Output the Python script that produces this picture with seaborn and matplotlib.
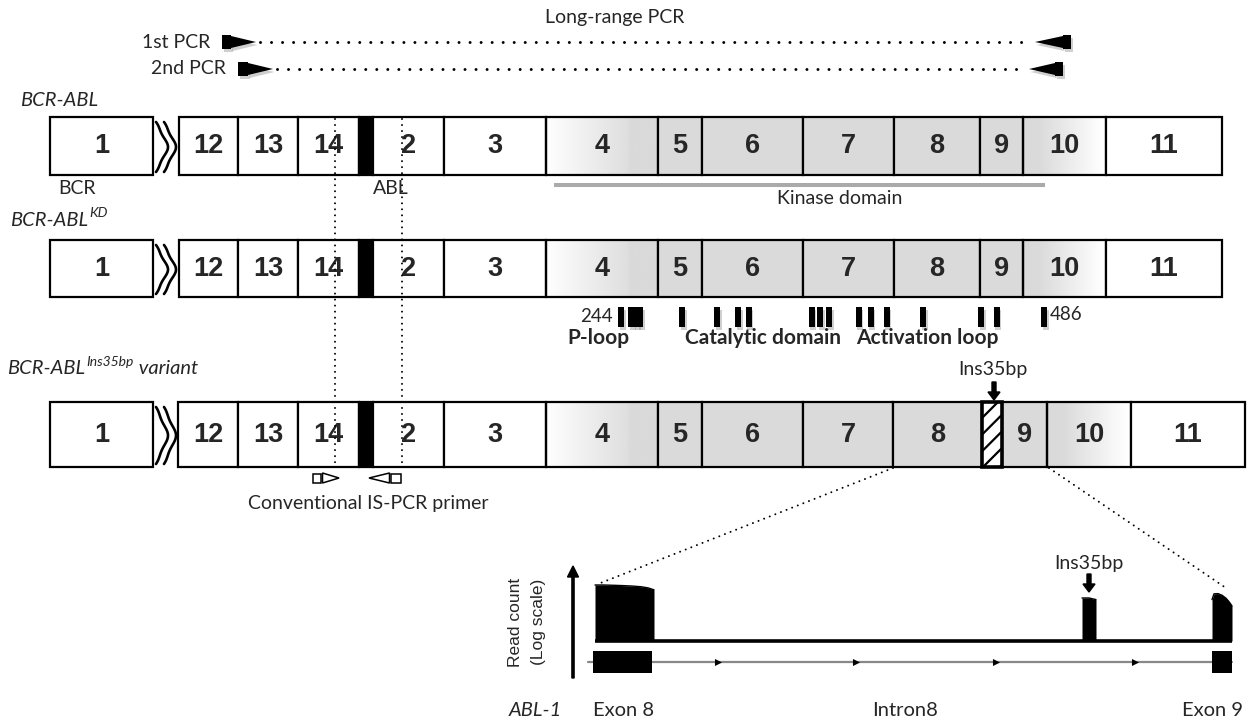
import numpy as np
import matplotlib
matplotlib.use("Agg")
import matplotlib.pyplot as plt
from matplotlib.patches import Rectangle, Polygon
import seaborn as sns

sns.set_theme(style="white")
plt.rcParams["font.family"] = ["Lato", "DejaVu Sans"]
plt.rcParams["hatch.linewidth"] = 1.6

W, H = 1248, 721
GRAY = np.array([218, 218, 218]) / 255.0

# ---------------- construct layout ----------------
bcr_exon1 = [50, 153]
wt_edges = [179, 238, 298, 359, 373, 444, 546, 658, 702, 803, 894, 980, 1023, 1106, 1222]
wt_exons = ["12", "13", "14", "junction", "2", "3", "4", "5", "6", "7", "8", "9", "10", "11"]
ins_edges = [178, 238, 298, 359, 373, 444, 546, 658, 702, 803, 893, 982, 1002, 1047, 1131, 1245]
ins_exons = ["12", "13", "14", "junction", "2", "3", "4", "5", "6", "7", "8", "ins", "9", "10", "11"]
row_tops = [117, 240, 402]
row_bottoms = [175, 297, 467]
row_names = [("BCR-ABL", "", ""), ("BCR-ABL", "KD", ""), ("BCR-ABL", "Ins35bp", " variant")]
row_label_x = [20, 10, 7]
row_label_y = [100, 220, 369]

white_exons = {"12", "13", "14", "2", "3", "11"}
gray_exons = {"5", "6", "7", "8", "9"}

# kinase-domain mutation sites (ABL codons) and codon -> drawing scale
mutation_codons = [244, 250, 253, 255, 279, 299, 311, 317, 353, 358, 363,
                   380, 387, 396, 417, 450, 459, 486]
codon_ref = (244, 486)
codon_x = (621, 1044)

# long-range PCR primers: (rect start, triangle base, tip, y)
lr_forward = [(222, 231, 256, 42), (238, 248, 273, 69)]
lr_reverse = [(1071, 1063, 1035, 42), (1063, 1055, 1029, 69)]
pcr_names = ["1st PCR", "2nd PCR"]

# conventional IS-PCR primers (open symbols)
is_forward = (313, 321, 339, 478)
is_reverse = (401, 391, 369, 478)

# breakpoint guides
guide_x = [335, 402]

# ABL-1 exon 8 / intron 8 / exon 9 read depth (log10 read count)
exon8_pos = [595, 603, 612, 622, 632, 641, 648, 654]
exon8_log = [4.87, 4.87, 4.85, 4.82, 4.78, 4.72, 4.62, 4.45]
ins_pos = [1082, 1089, 1096]
ins_log = [3.74, 3.74, 3.60]
exon9_pos = [1212, 1214, 1218, 1222, 1226, 1229, 1232]
exon9_log = [3.6, 4.1, 4.12, 3.98, 3.72, 3.42, 3.05]
cov_baseline = 641
px_per_log = 11.5
gene_exons = [(593, 652), (1212, 1232)]
intron_span = (588, 1232)
strand_marks = [718, 856, 996, 1135]

fig = plt.figure(figsize=(12.48, 7.21), dpi=100)
ax = fig.add_axes([0, 0, 1, 1])
ax.set_xlim(0, W)
ax.set_ylim(H, 0)
ax.axis("off")
renderer = fig.canvas.get_renderer()

NUM_FONT = dict(family=["Liberation Sans", "DejaVu Sans"], fontweight="bold", fontsize=19.5)


def gradient(x0, x1, y0, y1, kind):
    t = np.linspace(0, 1, 300)
    if kind == "in":
        a = np.where(t < 0.74, t / 0.74 * 0.88, 1.0)
    else:
        a = np.clip(1 - (t - 0.18) / 0.78, 0, 1)
    rgb = 1 - a[:, None] * (1 - GRAY[None, :])
    ax.imshow(rgb[None, :, :], extent=(x0, x1, y1, y0), aspect="auto",
              interpolation="bilinear", zorder=1)


def dotted(x0, y0, x1, y1, spacing, size, color="black", z=3):
    lw = size * 0.72
    ax.plot([x0, x1], [y0, y1], color=color, lw=lw,
            ls=(0, (0.01, spacing / size)), dash_capstyle="round", zorder=z)


def draw_row(top, bottom, edges, names):
    ax.add_patch(Rectangle((bcr_exon1[0], top), bcr_exon1[1] - bcr_exon1[0], bottom - top,
                           facecolor="white", edgecolor="black", lw=1.6, zorder=2))
    ax.text(sum(bcr_exon1) / 2, (top + bottom) / 2, "1", ha="center", va="center", **NUM_FONT)
    # break symbol between BCR exon 1 and exon 12
    t = np.linspace(0, 1, 80)
    for k in range(2):
        bulge = np.sin(np.pi * t)
        xs = bcr_exon1[1] + 3 + 8 * k + 12 * bulge - 2.5 * np.sin(2 * np.pi * t) ** 2
        ys = top + 5 + (bottom - top - 8) * t
        ax.plot(xs, ys, color="black", lw=1.9, zorder=2)
    for x0, x1, name in zip(edges[:-1], edges[1:], names):
        if name == "junction":
            ax.add_patch(Rectangle((x0, top), x1 - x0, bottom - top, facecolor="black",
                                   edgecolor="black", lw=1.6, zorder=2))
            continue
        if name == "ins":
            ax.add_patch(Rectangle((x0, top), x1 - x0, bottom - top, facecolor="white",
                                   edgecolor="black", hatch="//", lw=2.6, zorder=4))
            continue
        if name in white_exons:
            fc = "white"
        elif name in gray_exons:
            fc = GRAY
        else:
            fc = "none"
            gradient(x0, x1, top, bottom, "in" if name == "4" else "out")
        ax.add_patch(Rectangle((x0, top), x1 - x0, bottom - top, facecolor=fc,
                               edgecolor="black", lw=1.6, zorder=2))
        ax.text((x0 + x1) / 2, (top + bottom) / 2, name, ha="center", va="center",
                zorder=5, **NUM_FONT)


def italic_label(x, y, base, sup, tail):
    t = ax.text(x, y, base, style="italic", fontsize=14.5, ha="left", va="center")
    inv = ax.transData.inverted()
    xe = inv.transform((t.get_window_extent(renderer).x1, 0))[0]
    if sup:
        s = ax.text(xe + 1, y - 7, sup, style="italic", fontsize=10, ha="left", va="center")
        xe = inv.transform((s.get_window_extent(renderer).x1, 0))[0]
    if tail:
        ax.text(xe, y, tail, style="italic", fontsize=14.5, ha="left", va="center")


def solid_primer(rx, bx, tip, y):
    rect = [(rx, y - 7), (bx, y - 7), (bx, y + 7), (rx, y + 7)]
    tri = [(bx, y - 6), (tip, y), (bx, y + 6)]
    for poly in (rect, tri):
        ax.add_patch(Polygon(np.array(poly) + [1.5, 3], closed=True, color="#777777",
                             alpha=0.35, lw=0, zorder=3))
        ax.add_patch(Polygon(poly, closed=True, color="black", lw=0, zorder=4))


def open_primer(rx, bx, tip, y):
    lo, hi = sorted((rx, bx))
    ax.add_patch(Rectangle((lo, y - 4.5), hi - lo, 9, facecolor="white",
                           edgecolor="black", lw=1.1, zorder=4))
    gap = 1.5 * np.sign(tip - bx)
    ax.add_patch(Polygon([(bx + gap, y - 5), (tip, y), (bx + gap, y + 5)], closed=True,
                         facecolor="white", edgecolor="black", lw=1.1, zorder=4))


# ---- rows of constructs ----
for i, (top, bottom) in enumerate(zip(row_tops, row_bottoms)):
    if i < 2:
        draw_row(top, bottom, wt_edges, wt_exons)
    else:
        draw_row(top, bottom, ins_edges, ins_exons)
    italic_label(row_label_x[i], row_label_y[i], *row_names[i])

ax.set_xlim(0, W)
ax.set_ylim(H, 0)

# ---- long-range PCR primers ----
ax.text(615, 18, "Long-range PCR", fontsize=14, ha="center", va="center")
for name, f, r in zip(pcr_names, lr_forward, lr_reverse):
    ax.text(f[0] - 12, f[3], name, fontsize=14, ha="right", va="center")
    solid_primer(*f)
    solid_primer(*r)
    dotted(f[2] + 4, f[3], r[2] - 4, r[3], spacing=11, size=3)

# ---- annotations under row 1 ----
ax.text(58, 188, "BCR", fontsize=14, ha="left", va="center")
ax.text(373, 188, "ABL", fontsize=14, ha="left", va="center")
ax.plot([554, 1045], [185, 185], color="#aaaaaa", lw=2.9, solid_capstyle="butt", zorder=2)
ax.text(840, 199, "Kinase domain", fontsize=14, ha="center", va="center")

# ---- breakpoint guides ----
for gx in guide_x:
    dotted(gx, 119, gx, 466, spacing=6, size=2, z=6)

# ---- mutation sites ----
scale = (codon_x[1] - codon_x[0]) / (codon_ref[1] - codon_ref[0])
for c in mutation_codons:
    mx = codon_x[0] + (c - codon_ref[0]) * scale
    ax.add_patch(Rectangle((mx - 3 + 1.5, 307 + 3), 6, 20, color="#777777", alpha=0.35, lw=0, zorder=3))
    ax.add_patch(Rectangle((mx - 3, 307), 6, 20, color="black", lw=0, zorder=4))
ax.text(codon_x[0] - 8, 316, str(codon_ref[0]), fontsize=13.5, ha="right", va="center")
ax.text(codon_x[1] + 6, 315, str(codon_ref[1]), fontsize=13.5, ha="left", va="center")
ax.text(598, 338, "P-loop", fontsize=15, fontweight="bold", ha="center", va="center")
ax.text(763, 338, "Catalytic domain", fontsize=15, fontweight="bold", ha="center", va="center")
ax.text(927, 338, "Activation loop", fontsize=15, fontweight="bold", ha="center", va="center")

# ---- insertion marker ----
ax.text(993, 369, "Ins35bp", fontsize=14, ha="center", va="center")
ax.arrow(994, 382, 0, 18, width=4, head_width=12, head_length=8,
         length_includes_head=True, color="black", zorder=5)

# ---- conventional IS-PCR primers ----
open_primer(*is_forward)
open_primer(*is_reverse)
ax.text(368, 503, "Conventional IS-PCR primer", fontsize=14, ha="center", va="center")

# ---- zoom lines to ABL-1 detail ----
dotted(893, 468, 598, 584, spacing=6, size=2)
dotted(1049, 468, 1226, 588, spacing=6, size=2)

# ---- read-depth track ----
for pos, logs in ((exon8_pos, exon8_log), (ins_pos, ins_log), (exon9_pos, exon9_log)):
    tops = cov_baseline - np.array(logs) * px_per_log
    ax.fill_between(pos, tops, cov_baseline, color="black", lw=0, zorder=3)
    sns.lineplot(x=pos, y=tops, ax=ax, color="black", lw=1, zorder=3, sort=False)
ax.plot([exon8_pos[0], exon9_pos[-1]], [cov_baseline, cov_baseline], color="black",
        lw=2.6, solid_capstyle="butt", zorder=3)

# gene model
ax.plot(intron_span, [662, 662], color="#888888", lw=1.6, zorder=2)
for g0, g1 in gene_exons:
    ax.add_patch(Rectangle((g0, 651), g1 - g0, 22, color="black", lw=0, zorder=3))
ax.scatter(strand_marks, [662] * len(strand_marks), marker=">", s=26, color="black",
           lw=0, zorder=3)

ax.arrow(573, 678, 0, -112, width=2.2, head_width=11, head_length=11,
         length_includes_head=True, color="black", zorder=4)
axis_font = dict(family=["Liberation Sans", "DejaVu Sans"], fontsize=12.5)
ax.text(515, 622, "Read count", rotation=90, ha="center", va="center", **axis_font)
ax.text(538, 622, "(Log scale)", rotation=90, ha="center", va="center", **axis_font)

ax.text(1089, 563, "Ins35bp", fontsize=14, ha="center", va="center")
ax.arrow(1089, 574, 0, 18, width=4, head_width=12, head_length=8,
         length_includes_head=True, color="black", zorder=5)

ax.text(535, 710, "ABL-1", fontsize=14.5, style="italic", ha="center", va="center")
ax.text(624, 710, "Exon 8", fontsize=14.5, ha="center", va="center")
ax.text(905, 710, "Intron8", fontsize=14.5, ha="center", va="center")
ax.text(1213, 710, "Exon 9", fontsize=14.5, ha="center", va="center")

ax.set_xlim(0, W)
ax.set_ylim(H, 0)
fig.savefig("out.png", dpi=100, facecolor="white")
